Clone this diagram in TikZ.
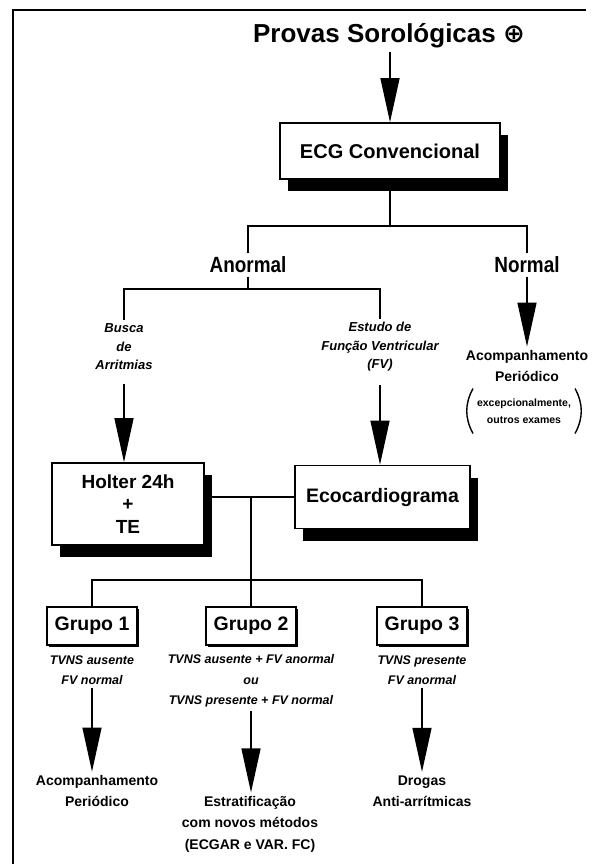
\documentclass[tikz,border=0pt]{standalone}
\usepackage{fontspec}
\setmainfont{Liberation Sans}
\newfontfamily\narrowfont{Liberation Sans}[FakeStretch=0.86]
\newfontfamily\symbfont{DejaVu Sans}
\usetikzlibrary{arrows.meta,shadows,positioning}

\begin{document}
\begin{tikzpicture}[x=1pt,y=-1pt,
    every node/.style={font=\bfseries, align=center},
    bigbox/.style={draw, line width=1.6pt, fill=white,
      drop shadow={shadow xshift=8pt, shadow yshift=-12pt, opacity=1, fill=black}},
    grpbox/.style={draw, line width=1.8pt, fill=white, inner sep=2pt,
      minimum width=90pt, minimum height=38pt,
      font=\fontsize{19.5}{21}\selectfont\bfseries,
      drop shadow={shadow xshift=1.5pt, shadow yshift=-1.5pt, opacity=1, fill=black}},
    note/.style={font=\fontsize{13}{18.5}\selectfont\bfseries\itshape},
    crit/.style={font=\fontsize{12.5}{20.5}\selectfont\bfseries\itshape},
    result/.style={font=\fontsize{14}{21.5}\selectfont\bfseries},
    bigarrow/.style={-{Triangle[length=44pt,width=19pt]}, line width=1.3pt},
    link/.style={line width=1.6pt},
    paren/.style={line width=1.4pt, line cap=round}]
		\useasboundingbox (0,0) rectangle (608,864);
		\draw[line width=1.4pt] (13,864)--(13,10)--(586,10);
		% top of the chart
		\node (prov) at (389,36) {\fontsize{26}{28}\selectfont Provas Sorológicas {\symbfont ⊕}};
		\node[bigbox, minimum width=220pt, minimum height=56pt,
		  font=\fontsize{20}{22}\selectfont\bfseries] (ecg) at (390,151) {ECG Convencional};
		\node[font=\fontsize{22}{24}\selectfont\narrowfont\bfseries] (anormal) at (248,265) {Anormal};
		\node[font=\fontsize{22}{24}\selectfont\narrowfont\bfseries] (normal) at (527,265) {Normal};
		\node[note] (busca) at (124,347) {Busca\\de\\Arritmias};
		\node[note] (estudo) at (380,347) {Estudo de\\Função Ventricular\\(FV)};
		\node[result] (acomp) at (527,366) {Acompanhamento\\Periódico};
		\node[font=\fontsize{10.5}{17}\selectfont\bfseries, inner xsep=4pt,
		  minimum height=44pt] (exc) at (524,411) {excepcionalmente,\\outros exames};
		% exams
		\node[bigbox, minimum width=152pt, minimum height=82pt,
		  font=\fontsize{19}{22.5}\selectfont\bfseries] (holter) at (128,504) {Holter 24h\\+\\TE};
		\node[bigbox, minimum width=175pt, minimum height=63pt,
		  font=\fontsize{19.5}{21}\selectfont\bfseries] (eco) at (382.5,497) {Ecocardiograma};
		% groups
		\node[grpbox] (g1) at (92,626) {Grupo 1};
		\node[grpbox] (g2) at (251,626) {Grupo 2};
		\node[grpbox] (g3) at (422,626) {Grupo 3};
		\node[crit] (c1) at (92,670) {TVNS ausente\\FV normal};
		\node[crit] (c2) at (251,681) {TVNS ausente + FV anormal\\ou\\TVNS presente + FV normal};
		\node[crit] (c3) at (422,670) {TVNS presente\\FV anormal};
		\node[result] (r1) at (97,791) {Acompanhamento\\Periódico};
		\node[result] (r2) at (250,824) {Estratificação\\com novos métodos\\(ECGAR e VAR. FC)};
		\node[result] (r3) at (422,791) {Drogas\\Anti-arrítmicas};
		\coordinate (fork1) at (390,226);
		\coordinate (fork2) at (248,289);
		\coordinate (split) at (251,497);
		\coordinate (hub) at (251,580);
		% brackets round the small note
		\draw[paren] (exc.north west) to[bend right=28] (exc.south west);
		\draw[paren] (exc.north east) to[bend left=28] (exc.south east);
		% connectors
		\draw[bigarrow] (ecg.north |- prov.south)--(ecg.north);
		\draw[link] (ecg.south)--(fork1);
		\draw[link] (anormal.north) |- (fork1) -| (normal.north);
		\draw[link] (anormal.south)--(fork2);
		\draw[link] (busca.north) |- (fork2) -| (estudo.north);
		\draw[bigarrow] (normal.south)--(acomp.north);
		\draw[bigarrow, shorten <=10pt] (busca.south)--(busca.south |- holter.north);
		\draw[bigarrow, shorten <=10pt] (estudo.south)--(estudo.south |- eco.north);
		\draw[link] (eco.west)--(eco.west -| holter.east);
		\draw[link] (split)--(hub)--(g2.north);
		\draw[link] (g1.north) |- (hub) -| (g3.north);
		\draw[bigarrow] (c1.south)--(c1.south |- r1.north);
		\draw[bigarrow] (c2.south)--(c2.south |- r2.north);
		\draw[bigarrow] (c3.south)--(r3.north);
		\end{tikzpicture}
\end{document}
